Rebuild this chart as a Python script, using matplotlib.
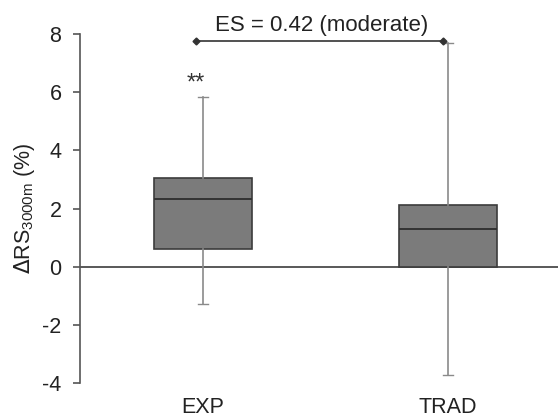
import matplotlib
matplotlib.use("Agg")
import matplotlib.pyplot as plt

plt.rcParams['font.family'] = ['Liberation Sans', 'DejaVu Sans']

categories = ["EXP", "TRAD"]
whisker_low = [-1.28, -3.71]
q1 = [0.61, 0.0]
median = [2.34, 1.29]
q3 = [3.06, 2.14]
whisker_high = [5.84, 7.68]
es_text = "ES = 0.42 (moderate)"
es_level = 7.75
sig_text = "**"
sig_level = 6.3
yticks = [-4, -2, 0, 2, 4, 6, 8]

fig = plt.figure(figsize=(5.58, 4.2), dpi=100)
ax = fig.add_axes([0.1425, 0.0874, 0.8575, 0.8317])

stats = []
for i, c in enumerate(categories):
    stats.append(dict(label=c, whislo=whisker_low[i], q1=q1[i], med=median[i],
                      q3=q3[i], whishi=whisker_high[i], fliers=[]))
pos = [1, 2]
ax.bxp(stats, positions=pos, widths=0.40, patch_artist=True, showfliers=False,
       boxprops=dict(facecolor="#7b7b7b", edgecolor="#3c3c3c", linewidth=1.2),
       medianprops=dict(color="#333333", linewidth=1.4),
       whiskerprops=dict(color="#8a8a8a", linewidth=1.2),
       capprops=dict(color="#8a8a8a", linewidth=1.0),
       capwidths=0.04, zorder=3)

ax.axhline(0, color="#3c3c3c", linewidth=1.2, zorder=2)

ax.set_xlim(0.496, 2.449)
ax.set_ylim(-4, 8)
ax.set_yticks(yticks)
ax.set_yticklabels([str(t) for t in yticks], fontsize=15.5, color="#222222")
ax.tick_params(axis='y', direction='out', length=5, width=1.2, color="#555555", pad=8)
ax.set_xticks(pos)
ax.set_xticklabels(categories, fontsize=15.5, color="#222222")
ax.tick_params(axis='x', length=0, pad=10)
for s in ["top", "right", "bottom"]:
    ax.spines[s].set_visible(False)
ax.spines["left"].set_color("#555555")
ax.spines["left"].set_linewidth(1.2)

ax.set_ylabel(r"$\Delta$RS$_{\mathregular{3000m}}$ (%)", fontsize=15.5, color="#222222", labelpad=4)

# effect size bar
ax.plot([0.970, 1.981], [es_level, es_level], color="#333333", linewidth=1.2,
        marker="D", markersize=3.5, clip_on=False, zorder=4)
ax.text(1.484, 8.1, es_text, ha="center", va="baseline", fontsize=16,
        color="#222222", clip_on=False)
ax.text(0.97, sig_level, sig_text, ha="center", va="center", fontsize=17, color="#333333")

fig.savefig("out.png", dpi=100)
